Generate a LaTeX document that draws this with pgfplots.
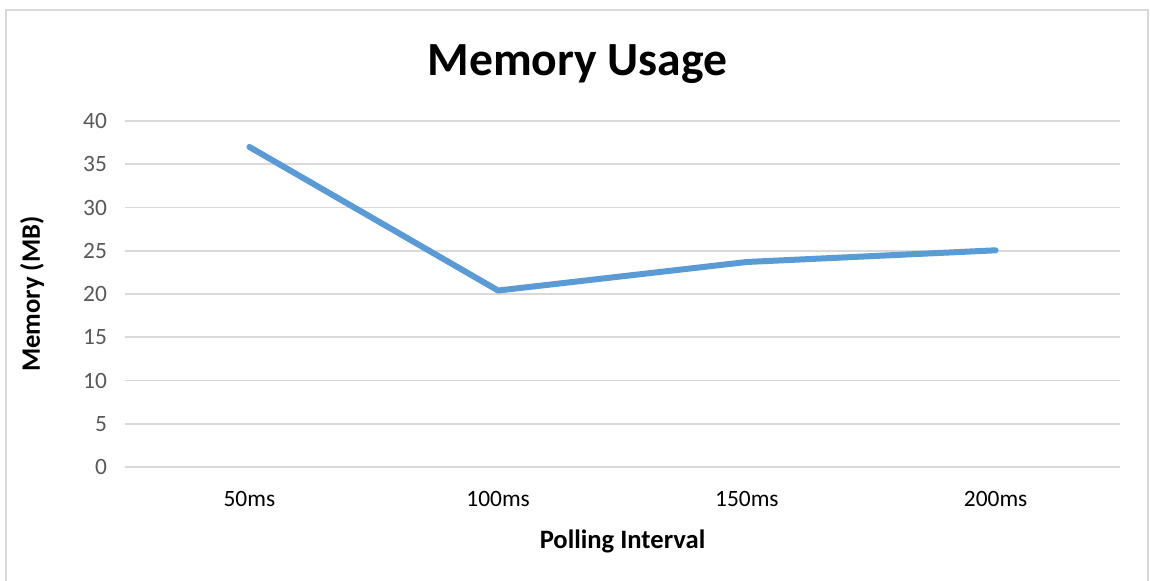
\documentclass[border=0pt]{standalone}
\usepackage{pgfplots}
\pgfplotsset{compat=1.18}
\usepackage{fontspec}
\setmainfont{Carlito}
\definecolor{lineblue}{HTML}{5B9BD5}
\definecolor{gridgray}{HTML}{D9D9D9}
\definecolor{ticktxt}{HTML}{595959}

\begin{document}
\begin{tikzpicture}
\useasboundingbox (0,0) rectangle (575pt,290.5pt);
\fill[white] (0,0) rectangle (575pt,290.5pt);
\draw[gridgray, line width=0.8pt] (3pt,-2pt) -- (3pt,285.5pt) -- (574pt,285.5pt) -- (574pt,-2pt);
\begin{axis}[at={(62.5pt,57pt)}, anchor=south west,
  scale only axis, width=497.5pt, height=173pt,
  xmin=-0.5, xmax=3.5, ymin=0, ymax=40,
  xtick={0,1,2,3}, xticklabels={50ms,100ms,150ms,200ms},
  ytick={0,5,...,40},
  axis line style={draw=none}, tick style={draw=none},
  ymajorgrids, grid style={gridgray, line width=0.8pt},
  tick label style={font=\fontsize{11.7}{13}\selectfont, text=ticktxt},
  x tick label style={text=black, yshift=-8.5pt},
  y tick label style={xshift=-5.5pt},
  /pgf/number format/assume math mode=true,
  xlabel={\textbf{Polling Interval}}, ylabel={\textbf{Memory (MB)}},
  label style={font=\fontsize{13.3}{15}\selectfont},
  xlabel style={at={(axis description cs:0.5,0)}, anchor=center, yshift=-37pt},
  ylabel style={at={(axis description cs:0,0.5)}, anchor=center, yshift=46.5pt},
  title={\textbf{Memory Usage}},
  title style={font=\fontsize{23.8}{26}\selectfont, at={(axis description cs:0.5,1)}, anchor=center, yshift=22.5pt, xshift=-22.5pt},
  clip=false]
\addplot[color=lineblue, line width=3pt, line cap=round, line join=round, mark=none]
  coordinates {(0,37.0) (1,20.4) (2,23.7) (3,25.05)};
\end{axis}
\end{tikzpicture}
\end{document}
